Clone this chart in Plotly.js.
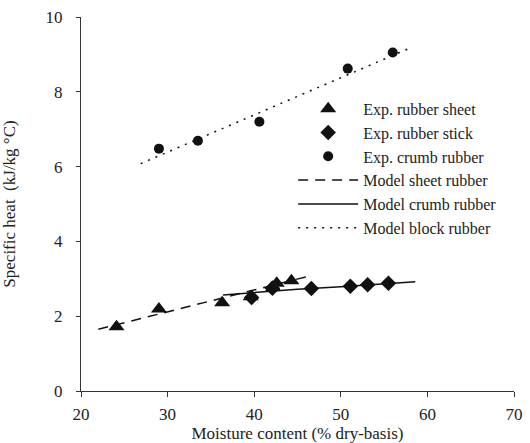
<!DOCTYPE html>
<html>
<head>
<meta charset="utf-8">
<script src="https://cdn.plot.ly/plotly-3.0.1.min.js"></script>
<style>html,body{margin:0;padding:0;background:#fff}#chart{width:530px;height:443px}</style>
</head>
<body>
<div id="chart"></div>
<script>
// Experimental data
const sheetX = [24.1, 29.0, 36.3, 39.6, 42.2, 42.6, 44.3];
const sheetY = [1.72, 2.19, 2.36, 2.52, 2.77, 2.88, 2.95];
const stickX = [39.7, 42.1, 46.6, 51.1, 53.1, 55.5];
const stickY = [2.50, 2.75, 2.74, 2.80, 2.84, 2.88];
const crumbX = [29.0, 33.5, 40.6, 50.8, 56.0];
const crumbY = [6.48, 6.69, 7.20, 8.62, 9.05];
// Model curves
const modelSheetX = [22.0, 46.3];
const modelSheetY = [1.65, 3.07];
const modelCrumbX = [36.4, 40, 45, 50, 55, 58.6];
const modelCrumbY = [2.57, 2.64, 2.72, 2.79, 2.86, 2.92];
const modelBlockX = [26.9, 57.8];
const modelBlockY = [6.08, 9.15];

const ink = '#111';
const serif = 'Liberation Serif, Times New Roman, serif';
const fs = 17;

const traces = [
  {x: sheetX, y: sheetY, name: 'Exp. rubber sheet', mode: 'markers', type: 'scatter',
   marker: {symbol: 'triangle-up', size: 14, color: ink}},
  {x: stickX, y: stickY, name: 'Exp. rubber stick', mode: 'markers', type: 'scatter',
   marker: {symbol: 'diamond', size: 12, color: ink}},
  {x: crumbX, y: crumbY, name: 'Exp. crumb rubber', mode: 'markers', type: 'scatter',
   marker: {symbol: 'circle', size: 10, color: ink}},
  {x: modelSheetX, y: modelSheetY, name: 'Model sheet rubber', mode: 'lines', type: 'scatter',
   line: {color: ink, width: 1.5, dash: '10px,7px'}},
  {x: modelCrumbX, y: modelCrumbY, name: 'Model crumb rubber', mode: 'lines', type: 'scatter',
   line: {color: ink, width: 1.5}},
  {x: modelBlockX, y: modelBlockY, name: 'Model block rubber', mode: 'lines', type: 'scatter',
   line: {color: ink, width: 1.5, dash: '2px,6px'}}
];

const layout = {
  width: 530, height: 443,
  margin: {l: 81, r: 16, t: 17, b: 52},
  paper_bgcolor: '#fff', plot_bgcolor: '#fff',
  font: {family: serif, size: fs, color: '#222'},
  showlegend: true,
  legend: {x: 0.49, y: 0.8, xanchor: 'left', yanchor: 'top', bgcolor: 'rgba(0,0,0,0)',
           font: {family: serif, size: 16, color: '#222'}, itemwidth: 60, tracegroupgap: 0},
  xaxis: {range: [20, 70], tickvals: [20, 30, 40, 50, 60, 70], showgrid: false, zeroline: false,
          showline: true, linecolor: '#333', linewidth: 1, ticks: 'outside', ticklen: 5, tickcolor: '#333',
          ticklabelstandoff: 3,
          tickfont: {family: serif, size: fs, color: '#222'},
          title: {text: 'Moisture content (% dry-basis)', standoff: 0, font: {family: serif, size: fs, color: '#222'}}},
  yaxis: {range: [0, 10], tickvals: [0, 2, 4, 6, 8, 10], showgrid: false, zeroline: false,
          showline: true, linecolor: '#333', linewidth: 1, ticks: 'outside', ticklen: 4, tickcolor: '#333',
          ticklabelstandoff: 10,
          tickfont: {family: serif, size: fs, color: '#222'},
          title: {text: 'Specific heat  (kJ/kg °C)', standoff: 25, font: {family: serif, size: fs, color: '#222'}}}
};

Plotly.newPlot('chart', traces, layout, {staticPlot: true, displayModeBar: false});
</script>
</body>
</html>
